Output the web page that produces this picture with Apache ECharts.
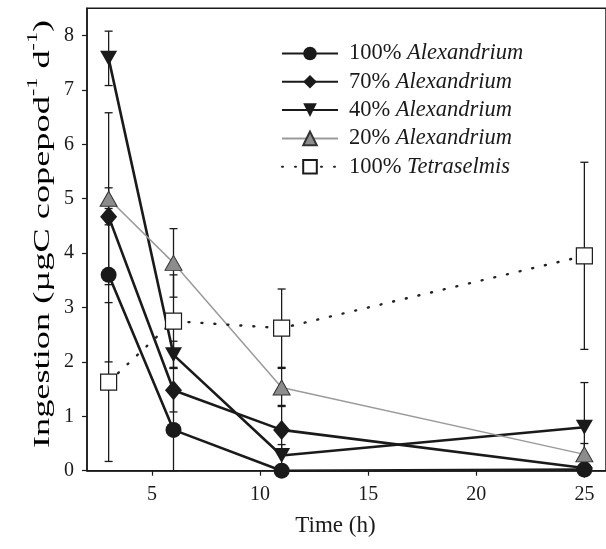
<!DOCTYPE html>
<html>
<head>
<meta charset="utf-8">
<script src="https://cdn.jsdelivr.net/npm/echarts@6/dist/echarts.min.js"></script>
<style>html,body{margin:0;padding:0;background:#fff;}#c{width:606px;height:549px;}</style>
</head>
<body>
<div id="c"></div>
<script>
// Time points (h)
const times = [3, 6, 11, 25];
// Ingestion means
const alex100 = [3.6, 0.75, 0.0, 0.02];
const alex70 = [4.67, 1.48, 0.75, 0.05];
const alex40 = [7.58, 2.13, 0.28, 0.8];
const alex20 = [5.0, 3.82, 1.53, 0.3];
const tetra100 = [1.63, 2.75, 2.62, 3.95];
// Error half-widths
const err100 = [1.6, 0.8, 0.05, 0.05];
const err70 = [0.15, 0.4, 0.45, 0.05];
const err40 = [0.5, 0.25, 0.2, 0.82];
const err20 = [1.58, 0.63, 0.35, 0.2];
const errTetra = [1.46, 0.85, 0.72, 1.72];
// Names and ticks
const names = ['100% Alexandrium', '70% Alexandrium', '40% Alexandrium', '20% Alexandrium', '100% Tetraselmis'];
const xTicks = [5, 10, 15, 20, 25];
const yTicks = [0, 1, 2, 3, 4, 5, 6, 7, 8];

const FONT = '"Liberation Serif","DejaVu Serif",serif';
const chart = echarts.init(document.getElementById('c'), null, {renderer: 'canvas'});

function pts(vals) { return times.map((t, i) => [t, vals[i]]); }
function errData(vals, errs) {
  return times.map((t, i) => [t, Math.max(0, vals[i] - errs[i]), vals[i] + errs[i]]);
}
function errSeries(vals, errs) {
  return {
    type: 'custom',
    silent: true,
    z: 1,
    clip: false,
    data: errData(vals, errs),
    encode: {x: 0, y: [1, 2]},
    renderItem: function (params, api) {
      const x = api.value(0);
      const lo = api.coord([x, api.value(1)]);
      const hi = api.coord([x, api.value(2)]);
      const w = 4;
      const st = {stroke: '#1a1a1a', lineWidth: 1.3};
      return {
        type: 'group',
        children: [
          {type: 'line', shape: {x1: hi[0], y1: hi[1], x2: lo[0], y2: lo[1]}, style: st},
          {type: 'line', shape: {x1: hi[0] - w, y1: hi[1], x2: hi[0] + w, y2: hi[1]}, style: st},
          {type: 'line', shape: {x1: lo[0] - w, y1: lo[1], x2: lo[0] + w, y2: lo[1]}, style: st}
        ]
      };
    }
  };
}

const option = {
  backgroundColor: '#fff',
  animation: false,
  grid: {left: 87, top: 8.3, right: -2.8, bottom: 78.3, show: true, borderColor: '#1a1a1a', borderWidth: 1.5, backgroundColor: 'transparent'},
  xAxis: {
    type: 'value', min: 2, max: 26,
    name: 'Time (h)', nameLocation: 'middle', nameGap: 44,
    nameTextStyle: {fontFamily: FONT, fontSize: 23, color: '#1a1a1a', padding: [0, 22, 0, 0]},
    axisLine: {show: true, onZero: false, lineStyle: {color: '#1a1a1a', width: 1.5}},
    axisTick: {show: true, inside: false, length: 5, customValues: xTicks, lineStyle: {color: '#1a1a1a', width: 1.2}},
    axisLabel: {customValues: xTicks, margin: 14, fontFamily: FONT, fontSize: 20, color: '#1a1a1a'},
    splitLine: {show: false}
  },
  yAxis: {
    type: 'value', min: 0, max: 8.5,
    axisLine: {show: true, lineStyle: {color: '#1a1a1a', width: 1.5}},
    axisTick: {show: true, inside: false, length: 5, customValues: yTicks, lineStyle: {color: '#1a1a1a', width: 1.2}},
    axisLabel: {customValues: yTicks, margin: 13, fontFamily: FONT, fontSize: 20, color: '#1a1a1a'},
    splitLine: {show: false}
  },
  legend: {
    orient: 'vertical', left: 276, top: 37,
    itemWidth: 56, itemHeight: 17, itemGap: 5.3,
    data: names,
    formatter: function (n) { const i = n.indexOf(' '); return '{a|' + n.slice(0, i) + '} {b|' + n.slice(i + 1) + '}'; },
    textStyle: {
      fontFamily: FONT, fontSize: 22.5, color: '#1a1a1a', padding: [0, 0, 0, 6],
      rich: {
        a: {fontFamily: FONT, fontSize: 22.5, color: '#1a1a1a', lineHeight: 22},
        b: {fontFamily: FONT, fontSize: 22.5, fontStyle: 'italic', color: '#1a1a1a', lineHeight: 22}
      }
    }
  },
  graphic: [{
    type: 'text', x: 40, y: 234, rotation: Math.PI / 2, scaleX: 1.58,
    style: {
      text: '{n|Ingestion (µgC copepod}{s|-1}{n| d}{s|-1}{n|)}',
      align: 'center', verticalAlign: 'middle',
      rich: {
        n: {fontFamily: FONT, fontSize: 23, color: '#1a1a1a', lineHeight: 28, verticalAlign: 'bottom'},
        s: {fontFamily: FONT, fontSize: 14, color: '#1a1a1a', lineHeight: 28, verticalAlign: 'top'}
      }
    }
  }],
  series: [
    errSeries(alex100, err100),
    errSeries(alex70, err70),
    errSeries(alex40, err40),
    errSeries(alex20, err20),
    errSeries(tetra100, errTetra),
    {
      name: names[0], type: 'line', z: 3, clip: false, data: pts(alex100),
      symbol: 'circle', symbolSize: 16,
      lineStyle: {color: '#1a1a1a', width: 2.6},
      itemStyle: {color: '#1a1a1a', borderColor: '#1a1a1a', borderWidth: 0}
    },
    {
      name: names[1], type: 'line', z: 3, clip: false, data: pts(alex70),
      symbol: 'diamond', symbolSize: [17, 20],
      lineStyle: {color: '#1a1a1a', width: 2.6},
      itemStyle: {color: '#1a1a1a', borderWidth: 0}
    },
    {
      name: names[2], type: 'line', z: 3, clip: false, data: pts(alex40),
      symbol: 'triangle', symbolRotate: 180, symbolSize: [17, 15],
      lineStyle: {color: '#1a1a1a', width: 2.6},
      itemStyle: {color: '#1a1a1a', borderWidth: 0}
    },
    {
      name: names[3], type: 'line', z: 3, clip: false, data: pts(alex20),
      symbol: 'triangle', symbolSize: [17, 15],
      lineStyle: {color: '#9a9a9a', width: 1.5},
      itemStyle: {color: '#8c8c8c', borderColor: '#333', borderWidth: 1}
    },
    {
      name: names[4], type: 'line', z: 3, clip: false, data: pts(tetra100),
      symbol: 'rect', symbolSize: 16,
      lineStyle: {color: '#222', width: 2.4, type: [1, 12], cap: 'round'},
      itemStyle: {color: '#fff', borderColor: '#1a1a1a', borderWidth: 1.2}
    }
  ]
};
chart.setOption(option);
</script>
</body>
</html>
